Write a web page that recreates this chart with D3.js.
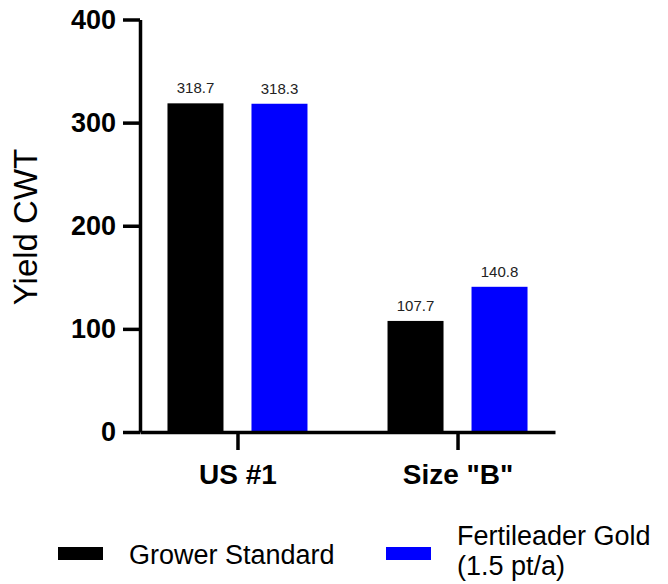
<!DOCTYPE html>
<html>
<head>
<meta charset="utf-8">
<script src="https://cdn.jsdelivr.net/npm/d3@7"></script>
<style>
  body { margin: 0; background: #fff; }
  svg { font-family: "Liberation Sans", Arial, sans-serif; }
</style>
</head>
<body>
<div id="chart"></div>
<script>
// Data
const categories = ['US #1', 'Size "B"'];
const seriesNames = ['Grower Standard', 'Fertileader Gold (1.5 pt/a)'];
const seriesColors = ['#000000', '#0000ff'];
const growerStandard = [318.7, 107.7];
const fertileaderGold = [318.3, 140.8];
const yTicks = [0, 100, 200, 300, 400];

const width = 668, height = 584;
const svg = d3.select('#chart').append('svg')
    .attr('width', width)
    .attr('height', height);

// Scales
const yScale = d3.scaleLinear().domain([0, 400]).range([432, 19.5]);
const xScale = d3.scalePoint().domain(categories).range([140, 555]).padding(0.443);
const subScale = d3.scaleBand().domain([0, 1]).range([-70, 70]).paddingInner(1 / 3);

const values = [growerStandard, fertileaderGold];

// Bars
values.forEach((vals, s) => {
    svg.append('g').selectAll('rect')
        .data(vals)
        .join('rect')
        .attr('x', (d, i) => xScale(categories[i]) + subScale(s))
        .attr('y', d => yScale(d))
        .attr('width', subScale.bandwidth())
        .attr('height', d => yScale(0) - yScale(d))
        .attr('fill', seriesColors[s]);

    // Value labels
    svg.append('g').selectAll('text')
        .data(vals)
        .join('text')
        .attr('x', (d, i) => xScale(categories[i]) + subScale(s) + subScale.bandwidth() / 2)
        .attr('y', d => yScale(d) - 10)
        .attr('text-anchor', 'middle')
        .attr('font-size', 15)
        .attr('fill', '#222')
        .text(d => d.toFixed(1));
});

// Y axis
const yAxis = svg.append('g')
    .attr('transform', 'translate(140,0)')
    .call(d3.axisLeft(yScale).tickValues(yTicks).tickSize(17).tickSizeOuter(0).tickPadding(7));
yAxis.selectAll('path, line').attr('stroke', '#000').attr('stroke-width', 3.5);
yAxis.selectAll('text')
    .attr('font-size', 27)
    .attr('font-weight', 'bold')
    .attr('font-family', '"Liberation Sans", Arial, sans-serif')
    .attr('fill', '#000');

// X axis
const xAxis = svg.append('g')
    .attr('transform', `translate(0,${yScale(0)})`)
    .call(d3.axisBottom(xScale).tickSize(18).tickSizeOuter(0).tickPadding(14));
xAxis.selectAll('path, line').attr('stroke', '#000').attr('stroke-width', 3.5);
xAxis.selectAll('text')
    .attr('font-size', 28)
    .attr('font-weight', 'bold')
    .attr('font-family', '"Liberation Sans", Arial, sans-serif')
    .attr('fill', '#000');

// Y axis title
svg.append('text')
    .attr('transform', 'translate(37,227) rotate(-90)')
    .attr('text-anchor', 'middle')
    .attr('font-size', 33)
    .text('Yield CWT');

// Legend
const legend = svg.append('g');
legend.append('rect').attr('x', 58).attr('y', 547).attr('width', 45).attr('height', 13).attr('fill', seriesColors[0]);
legend.append('text').attr('x', 129).attr('y', 564).attr('font-size', 27).text(seriesNames[0]);
legend.append('rect').attr('x', 386).attr('y', 547).attr('width', 45).attr('height', 13).attr('fill', seriesColors[1]);
const t2 = legend.append('text').attr('x', 457).attr('y', 545).attr('font-size', 27);
t2.append('tspan').attr('x', 457).text('Fertileader Gold');
t2.append('tspan').attr('x', 457).attr('dy', 30).text('(1.5 pt/a)');
</script>
</body>
</html>
